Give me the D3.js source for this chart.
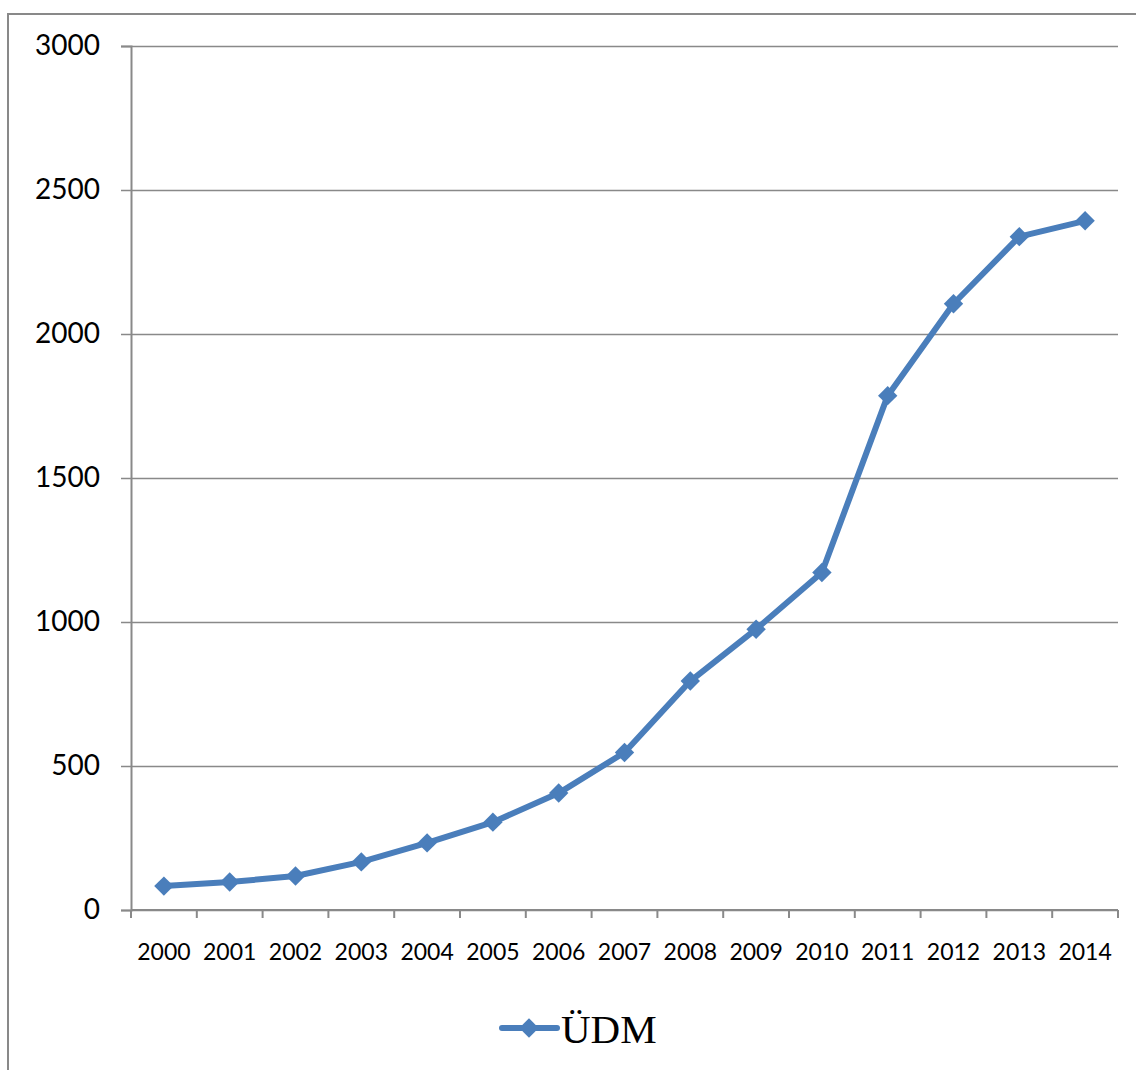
<!DOCTYPE html>
<html>
<head>
<meta charset="utf-8">
<script src="https://cdn.jsdelivr.net/npm/d3@7"></script>
<style>
  body { margin: 0; background: #fff; }
  .tick text { font-family: Lato, "Open Sans", sans-serif; fill: #000; }
</style>
</head>
<body>
<div id="graph"></div>
<script>
const years = ['2000','2001','2002','2003','2004','2005','2006','2007','2008','2009','2010','2011','2012','2013','2014'];
const udm = [83, 97, 118, 167, 233, 305, 406, 547, 795, 975, 1172, 1786, 2105, 2338, 2393];
const yTicks = [0, 500, 1000, 1500, 2000, 2500, 3000];
const seriesName = 'ÜDM';

const w = 1136, h = 1070;
const pad_left = 131, pad_right = 1118, pad_top = 46, pad_bottom = 910;
const blue = '#4a7ebb', grey = '#898989';

const svg = d3.select('#graph').append('svg')
  .attr('width', w).attr('height', h);

// outer chart border
svg.append('path')
  .attr('d', 'M8,' + h + ' V14 H' + w)
  .attr('fill', 'none').attr('stroke', grey).attr('stroke-width', 2);

const xScale = d3.scaleBand().domain(years).range([pad_left, pad_right]).padding(0);
const xEdge = d3.scaleLinear().domain([0, years.length]).range([pad_left, pad_right]);
const yScale = d3.scaleLinear().domain([0, 3000]).range([pad_bottom, pad_top]);

// gridlines + y axis
const yAxis = d3.axisLeft(yScale).tickValues(yTicks).tickFormat(d3.format('d'))
  .tickSize(10).tickPadding(21);
const yg = svg.append('g')
  .attr('transform', 'translate(' + pad_left + ',0)')
  .call(yAxis);
yg.select('.domain').attr('stroke', grey).attr('stroke-width', 2);
yg.selectAll('.tick line').attr('stroke', grey).attr('stroke-width', 1.5)
  .attr('x1', pad_right - pad_left);
yg.selectAll('.tick text').style('font-size', '28px');

// x axis
const xg = svg.append('g')
  .attr('transform', 'translate(0,' + pad_bottom + ')')
  .call(d3.axisBottom(xScale).tickSize(0).tickPadding(34));
xg.select('.domain').remove();
xg.selectAll('.tick text').style('font-size', '23px');
svg.append('line')
  .attr('x1', pad_left).attr('x2', pad_right).attr('y1', pad_bottom).attr('y2', pad_bottom)
  .attr('stroke', grey).attr('stroke-width', 2);
svg.selectAll('.xtick')
  .data(d3.range(years.length + 1))
  .enter().append('line')
  .attr('x1', d => xEdge(d)).attr('x2', d => xEdge(d))
  .attr('y1', pad_bottom).attr('y2', pad_bottom + 8)
  .attr('stroke', grey).attr('stroke-width', 2);

// line
const cx = d => xScale(d) + xScale.bandwidth() / 2;
const line = d3.line().x((d, i) => cx(years[i])).y(d => yScale(d));
svg.append('path')
  .datum(udm)
  .attr('d', line)
  .attr('fill', 'none').attr('stroke', blue).attr('stroke-width', 6)
  .attr('stroke-linejoin', 'round');

const diamond = d3.symbol().type(d3.symbolDiamond2).size(240);
svg.selectAll('.pt')
  .data(udm)
  .enter().append('path')
  .attr('d', diamond)
  .attr('transform', (d, i) => 'translate(' + cx(years[i]) + ',' + yScale(d) + ')')
  .attr('fill', blue);

// legend
const lg = svg.append('g').attr('transform', 'translate(502,1028)');
lg.append('line').attr('x1', 0).attr('x2', 55).attr('y1', 0).attr('y2', 0)
  .attr('stroke', blue).attr('stroke-width', 6).attr('stroke-linecap', 'round');
lg.append('path').attr('d', diamond).attr('transform', 'translate(27,0)').attr('fill', blue);
lg.append('text').text(seriesName)
  .attr('x', 59).attr('y', 15)
  .style('font-family', '"Liberation Serif", "Times New Roman", serif')
  .style('font-size', '41px').attr('fill', '#000');
</script>
</body>
</html>
